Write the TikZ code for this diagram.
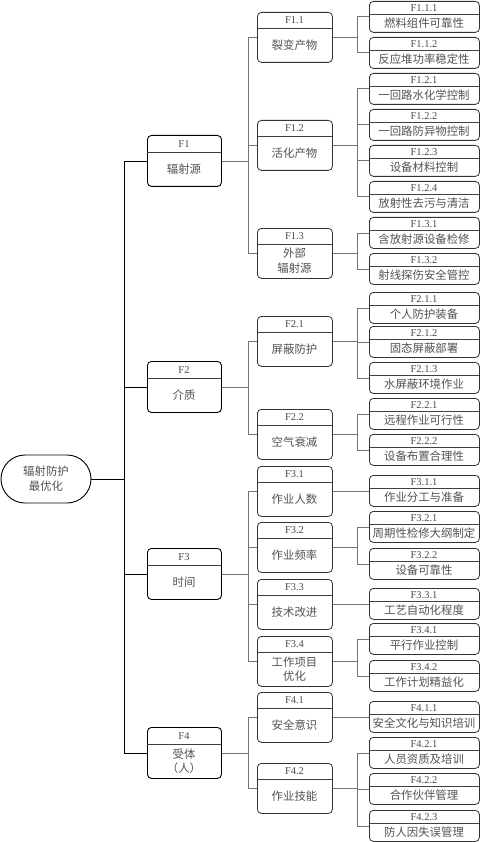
\documentclass[tikz,border=0pt]{standalone}
\usepackage{fontspec}
\setmainfont{Liberation Serif}
\newfontfamily\cjk{Noto Sans CJK SC}
\usetikzlibrary{calc}
\tikzset{
  bx/.style={draw=black!80, line width=0.8pt, rounded corners=4pt, inner sep=0pt},
  bxone/.style={bx, draw=black, line width=0.9pt},
  divl/.style={draw=black!75, line width=0.7pt},
  lbl/.style={inner sep=0pt, font=\fontsize{10.5}{12}\selectfont, text=black!70},
  txt/.style={inner sep=0pt, align=center, font=\cjk\fontsize{11.4}{15}\selectfont, text=black!68},
  trunk/.style={draw=black, line width=0.8pt},
  conn/.style={draw=black!55, line width=0.8pt},
  rootsty/.style={draw=black, line width=0.9pt, rounded corners=24pt, minimum width=90pt, minimum height=48pt, inner sep=0pt, align=center, font=\cjk\fontsize{11.4}{15}\selectfont, text=black!68}
}
% #1 name, #2 left x, #3 top y, #4 width, #5 height, #6 divider offset, #7 label, #8 text, #9 style
\newcommand{\mkbox}[9]{%
  \node[#9, minimum width=#4pt, minimum height=#5pt, anchor=north west] (#1) at (#2,#3) {};
  \draw[divl] (#2,{#3+#6}) -- ({#2+#4},{#3+#6});
  \node[lbl] (#1l) at ({#2+#4/2},{#3+#6/2+0.5}) {#7};
  \node[txt] (#1t) at ({#2+#4/2},{#3+(#5+#6)/2}) {#8};
}
\newcommand{\lvone}[4]{\mkbox{#1}{147}{#2}{74}{51}{17}{#3}{#4}{bxone}}
\newcommand{\lvtwo}[4]{\mkbox{#1}{257}{#2}{75}{50}{16}{#3}{#4}{bx}}
\newcommand{\lvthree}[4]{\mkbox{#1}{369}{#2}{110}{31}{13}{#3}{#4}{bx}}
\begin{document}
\begin{tikzpicture}[x=1pt,y=-1pt]
\useasboundingbox (0,0) rectangle (481,842);
% root
\node[rootsty] (root) at (46,479) {辐射防护\\最优化};
% level 1
\lvone{a1}{135}{F1}{辐射源}
\lvone{a2}{361}{F2}{介质}
\lvone{a3}{548}{F3}{时间}
\lvone{a4}{727}{F4}{受体\\[-1pt]（人）}
% level 2
\lvtwo{b11}{12}{F1.1}{裂变产物}
\lvtwo{b12}{120}{F1.2}{活化产物}
\lvtwo{b13}{228}{F1.3}{外部\\辐射源}
\lvtwo{b21}{316}{F2.1}{屏蔽防护}
\lvtwo{b22}{409}{F2.2}{空气衰减}
\lvtwo{b31}{466}{F3.1}{作业人数}
\lvtwo{b32}{522}{F3.2}{作业频率}
\lvtwo{b33}{579}{F3.3}{技术改进}
\lvtwo{b34}{636}{F3.4}{工作项目\\[-1pt]优化}
\lvtwo{b41}{692}{F4.1}{安全意识}
\lvtwo{b42}{763}{F4.2}{作业技能}
% level 3
\lvthree{c111}{1}{F1.1.1}{燃料组件可靠性}
\lvthree{c112}{37}{F1.1.2}{反应堆功率稳定性}
\lvthree{c121}{73}{F1.2.1}{一回路水化学控制}
\lvthree{c122}{109}{F1.2.2}{一回路防异物控制}
\lvthree{c123}{145}{F1.2.3}{设备材料控制}
\lvthree{c124}{181}{F1.2.4}{放射性去污与清洁}
\lvthree{c131}{217}{F1.3.1}{含放射源设备检修}
\lvthree{c132}{253}{F1.3.2}{射线探伤安全管控}
\lvthree{c211}{292}{F2.1.1}{个人防护装备}
\lvthree{c212}{326}{F2.1.2}{固态屏蔽部署}
\lvthree{c213}{362}{F2.1.3}{水屏蔽环境作业}
\lvthree{c221}{398}{F2.2.1}{远程作业可行性}
\lvthree{c222}{434}{F2.2.2}{设备布置合理性}
\lvthree{c311}{475}{F3.1.1}{作业分工与准备}
\lvthree{c321}{511}{F3.2.1}{周期性检修大纲制定}
\lvthree{c322}{548}{F3.2.2}{设备可靠性}
\lvthree{c331}{588}{F3.3.1}{工艺自动化程度}
\lvthree{c341}{623}{F3.4.1}{平行作业控制}
\lvthree{c342}{660}{F3.4.2}{工作计划精益化}
\lvthree{c411}{701}{F4.1.1}{安全文化与知识培训}
\lvthree{c421}{737}{F4.2.1}{人员资质及培训}
\lvthree{c422}{773}{F4.2.2}{合作伙伴管理}
\lvthree{c423}{810}{F4.2.3}{防人因失误管理}
% connectors: trunk
\foreach \c in {a1,a2,a3,a4}
  \draw[trunk] (root.east) -- ++(33,0) |- (\c.west);
% level 1 -> 2
\foreach \p/\c in {a1/b11,a1/b12,a1/b13,a2/b21,a2/b22,a3/b31,a3/b32,a3/b33,a3/b34,a4/b41,a4/b42}
  \draw[conn] (\p.east) -- ++(26,0) |- (\c.west);
% level 2 -> 3
\foreach \p/\c in {b11/c111,b11/c112,b12/c121,b12/c122,b12/c123,b12/c124,b13/c131,b13/c132,b21/c211,b21/c212,b21/c213,b22/c221,b22/c222,b31/c311,b32/c321,b32/c322,b33/c331,b34/c341,b34/c342,b41/c411,b42/c421,b42/c422,b42/c423}
  \draw[conn] (\p.east) -- ++(25,0) |- (\c.west);
\end{tikzpicture}
\end{document}
